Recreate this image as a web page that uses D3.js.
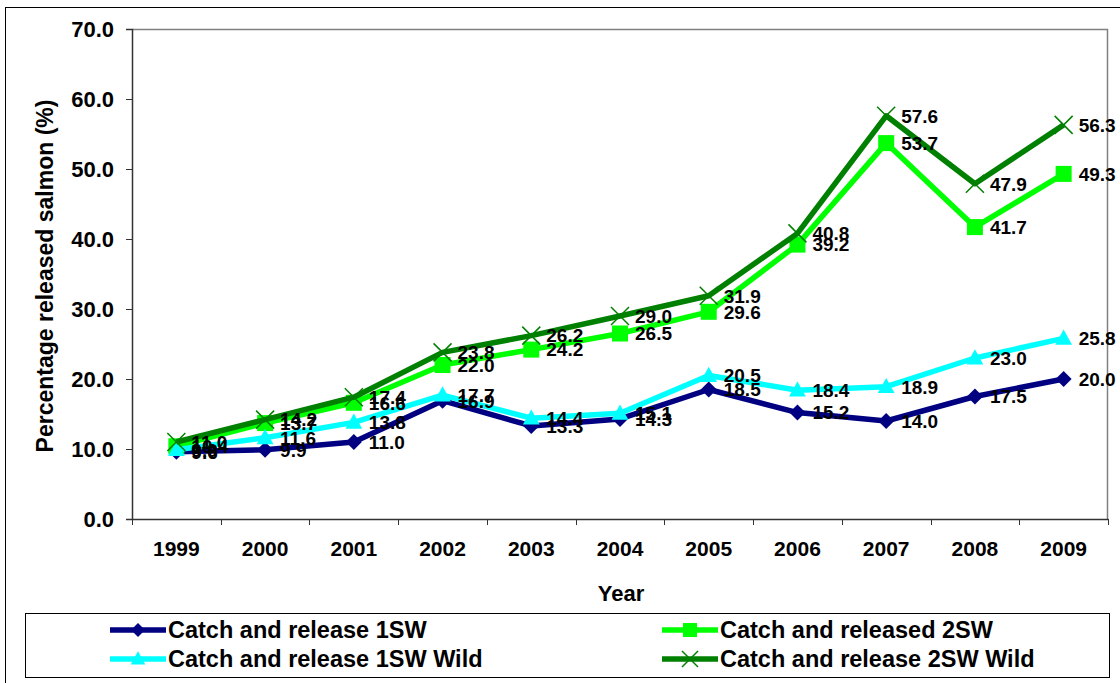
<!DOCTYPE html>
<html>
<head>
<meta charset="utf-8">
<script src="https://cdn.jsdelivr.net/npm/d3@7"></script>
<style>
	body { margin: 0; background: #fff; }
	text { font-family: "Liberation Sans", Arial, sans-serif; font-weight: bold; fill: #000; }
</style>
</head>
<body>
<div id="chart"></div>
<script>
var years = ["1999", "2000", "2001", "2002", "2003", "2004", "2005", "2006", "2007", "2008", "2009"];
var release1SW = [9.6, 9.9, 11.0, 16.9, 13.3, 14.3, 18.5, 15.2, 14.0, 17.5, 20.0];
var released2SW = [10.4, 13.7, 16.6, 22.0, 24.2, 26.5, 29.6, 39.2, 53.7, 41.7, 49.3];
var release1SWWild = [9.9, 11.6, 13.8, 17.7, 14.4, 15.1, 20.5, 18.4, 18.9, 23.0, 25.8];
var release2SWWild = [11.0, 14.2, 17.4, 23.8, 26.2, 29.0, 31.9, 40.8, 57.6, 47.9, 56.3];
var yTicks = [0, 10, 20, 30, 40, 50, 60, 70];

var series = [
	{ name: "Catch and release 1SW", values: release1SW, colour: "#000080", marker: "diamond" },
	{ name: "Catch and released 2SW", values: released2SW, colour: "#00ff00", marker: "square" },
	{ name: "Catch and release 1SW Wild", values: release1SWWild, colour: "#00ffff", marker: "triangle" },
	{ name: "Catch and release 2SW Wild", values: release2SWWild, colour: "#008000", marker: "cross" }
];

var size = { width: 1120, height: 683, margin: { left: 132, top: 29, right: 12, bottom: 164 } };
var plotW = size.width - size.margin.left - size.margin.right;
var plotH = size.height - size.margin.top - size.margin.bottom;

var svg = d3.select("#chart").append("svg")
	.attr("width", size.width)
	.attr("height", size.height);

// outer chart border
svg.append("rect")
	.attr("x", 5.5).attr("y", 7.5)
	.attr("width", 1130).attr("height", 700)
	.style("fill", "none").style("stroke", "#000").style("stroke-width", 1);

var x = d3.scaleBand().domain(years).range([0, plotW]);
var y = d3.scaleLinear().domain([0, 70]).range([plotH, 0]);

var g = svg.append("g")
	.attr("transform", "translate(" + size.margin.left + ", " + size.margin.top + ")");

// plot area frame (top and right in grey)
g.append("path")
	.attr("d", "M0.5,0.5H" + (plotW - 0.5) + "V" + plotH)
	.style("fill", "none").style("stroke", "#808080").style("stroke-width", 1.5);

var yAxis = g.append("g")
	.call(d3.axisLeft(y).tickValues(yTicks).tickSize(6).tickPadding(12).tickFormat(d3.format(".1f")));
yAxis.selectAll("text").style("font-size", "22px").attr("dy", "0.36em");

var xAxis = g.append("g")
	.attr("transform", "translate(0, " + plotH + ")")
	.call(d3.axisBottom(x).tickSize(0).tickPadding(22));
xAxis.selectAll("text").style("font-size", "21px").attr("dy", "0.71em");
// ticks between categories
xAxis.selectAll(".sep")
	.data(years.concat(["end"]))
	.enter().append("line")
	.attr("class", "sep")
	.attr("x1", function(_d, i) { return Math.round(i * x.step()) + 0.5; })
	.attr("x2", function(_d, i) { return Math.round(i * x.step()) + 0.5; })
	.attr("y1", 0).attr("y2", 6)
	.style("stroke", "#333");

g.selectAll(".domain").style("stroke", "#333").style("stroke-width", 1.5);
g.selectAll(".tick line").style("stroke", "#333");

var cx = function(_i) { return x(years[_i]) + x.bandwidth() / 2; };

var line = d3.line()
	.x(function(_d, i) { return cx(i); })
	.y(function(_d) { return y(_d); });

var markerPath = function(_type, _s) {
	switch(_type) {
		case "diamond" :
			return "M0," + (-_s) + "L" + _s + ",0L0," + _s + "L" + (-_s) + ",0Z";
		case "square" :
			return "M" + (-_s) + "," + (-_s) + "H" + _s + "V" + _s + "H" + (-_s) + "Z";
		case "triangle" :
			return "M0," + (-_s * 1.1) + "L" + (_s * 1.05) + "," + (_s * 0.8) + "H" + (-_s * 1.05) + "Z";
		case "cross" :
			return "M" + (-_s) + "," + (-_s) + "L" + _s + "," + _s + "M" + _s + "," + (-_s) + "L" + (-_s) + "," + _s;
	}
};

var drawMarker = function(_g, _s, _px, _py, _size) {
	var m = _g.append("path")
		.attr("transform", "translate(" + _px + "," + _py + ")")
		.attr("d", markerPath(_s.marker, _size));
	if(_s.marker === "cross") {
		m.style("fill", "none").style("stroke", _s.colour).style("stroke-width", 1.5);
	}
	else {
		m.style("fill", _s.colour).style("stroke", "none");
	}
	return m;
};

series.forEach(function(_s) {
	g.append("path")
		.datum(_s.values)
		.attr("d", line)
		.style("fill", "none")
		.style("stroke", _s.colour)
		.style("stroke-width", 5.5)
		.style("stroke-linejoin", "round");
	_s.values.forEach(function(_v, i) {
		drawMarker(g, _s, cx(i), y(_v), _s.marker === "cross" ? 9 : 8);
	});
});

series.forEach(function(_s) {
	g.selectAll(null)
		.data(_s.values)
		.enter().append("text")
		.style("font-size", "19px")
		.attr("x", function(_d, i) { return cx(i) + 15; })
		.attr("y", function(_d) { return y(_d); })
		.attr("dy", "0.36em")
		.text(function(_d) { return d3.format(".1f")(_d); });
});

// axis titles
svg.append("text")
	.attr("transform", "translate(53, " + (size.margin.top + plotH / 2 + 2) + ") rotate(-90)")
	.attr("text-anchor", "middle")
	.style("font-size", "23px")
	.text("Percentage released salmon (%)");

svg.append("text")
	.attr("x", 621).attr("y", 601)
	.attr("text-anchor", "middle")
	.style("font-size", "22px")
	.text("Year");

// legend
var legend = svg.append("g");
legend.append("rect")
	.attr("x", 25.5).attr("y", 613.5)
	.attr("width", 1084).attr("height", 64)
	.style("fill", "#fff").style("stroke", "#000").style("stroke-width", 1);

var legendPos = [
	{ x: 110, y: 630 },
	{ x: 662, y: 630 },
	{ x: 110, y: 659 },
	{ x: 662, y: 659 }
];

series.forEach(function(_s, i) {
	var p = legendPos[i];
	legend.append("line")
		.attr("x1", p.x).attr("x2", p.x + 56)
		.attr("y1", p.y).attr("y2", p.y)
		.style("stroke", _s.colour).style("stroke-width", 5.5);
	drawMarker(legend, _s, p.x + 28, p.y, _s.marker === "cross" ? 8 : 7);
	legend.append("text")
		.attr("x", p.x + 58).attr("y", p.y)
		.attr("dy", "0.36em")
		.style("font-size", "23.5px")
		.text(_s.name);
});
</script>
</body>
</html>
